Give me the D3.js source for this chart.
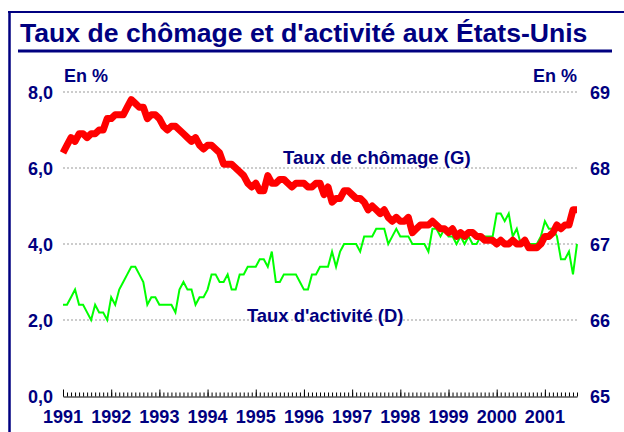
<!DOCTYPE html>
<html><head><meta charset="utf-8">
<script src="https://cdn.jsdelivr.net/npm/d3@7"></script>
<style>
html,body{margin:0;padding:0;background:#fff;}
svg text{font-family:"Liberation Sans",Arial,sans-serif;font-weight:bold;fill:#000080;}
</style></head>
<body>
<script>
// ---- data ----
const title = "Taux de chômage et d'activité aux États-Unis";
const startYear = 1991;
const yearLabels = ["1991","1992","1993","1994","1995","1996","1997","1998","1999","2000","2001"];
const leftTicks = [0, 2, 4, 6, 8];
const rightTicks = [65, 66, 67, 68, 69];
// Taux de chômage (G), monthly Jan 1991 - Sep 2001
const chomage = [
 6.4,6.6,6.8,6.7,6.9,6.9,6.8,6.9,6.9,7.0,7.0,7.3,
 7.3,7.4,7.4,7.4,7.6,7.8,7.7,7.6,7.6,7.3,7.4,7.4,
 7.3,7.1,7.0,7.1,7.1,7.0,6.9,6.8,6.7,6.8,6.6,6.5,
 6.6,6.6,6.5,6.4,6.1,6.1,6.1,6.0,5.9,5.8,5.6,5.5,
 5.6,5.4,5.4,5.8,5.6,5.6,5.7,5.7,5.6,5.5,5.6,5.6,
 5.6,5.5,5.5,5.6,5.6,5.3,5.5,5.1,5.2,5.2,5.4,5.4,
 5.3,5.2,5.2,5.1,4.9,5.0,4.9,4.8,4.9,4.7,4.6,4.7,
 4.6,4.6,4.7,4.3,4.4,4.5,4.5,4.5,4.6,4.5,4.4,4.4,
 4.3,4.4,4.2,4.3,4.2,4.3,4.3,4.2,4.2,4.1,4.1,4.1,
 4.0,4.1,4.0,4.0,4.1,4.0,4.0,4.1,3.9,3.9,3.9,4.0,
 4.2,4.2,4.3,4.5,4.4,4.5,4.5,4.9,4.9
];
// Taux d'activité (D), monthly Jan 1991 - Sep 2001
const activite = [
 66.2,66.2,66.3,66.4,66.2,66.2,66.1,66.0,66.2,66.1,66.1,66.0,
 66.3,66.2,66.4,66.5,66.6,66.7,66.7,66.6,66.5,66.2,66.3,66.3,
 66.2,66.2,66.2,66.2,66.1,66.4,66.5,66.4,66.4,66.2,66.3,66.3,
 66.4,66.6,66.6,66.5,66.5,66.6,66.4,66.4,66.6,66.6,66.7,66.7,
 66.7,66.8,66.8,66.7,66.9,66.5,66.5,66.6,66.6,66.6,66.6,66.5,
 66.4,66.4,66.6,66.6,66.7,66.7,66.7,66.9,66.7,66.9,67.0,67.0,
 67.0,67.0,66.9,67.1,67.1,67.1,67.2,67.2,67.2,67.0,67.1,67.2,
 67.1,67.1,67.1,67.0,67.0,67.0,67.0,66.9,67.2,67.2,67.1,67.2,
 67.1,67.1,67.0,67.1,67.0,67.1,67.0,67.0,67.1,67.1,67.1,67.1,
 67.4,67.4,67.3,67.4,67.1,67.2,67.0,67.0,67.0,67.0,67.0,67.1,
 67.3,67.2,67.2,67.1,66.8,66.8,66.9,66.6,67.0
];
const labelG = "Taux de chômage (G)";
const labelD = "Taux d'activité (D)";
const unitLabel = "En %";

// ---- layout ----
const W = 624, H = 432;
const svg = d3.select("body").append("svg").attr("width", W).attr("height", H);
const navy = "#000080";

const nMonths = chomage.length;
const x = d3.scaleLinear().domain([0, nMonths - 1]).range([63, 577]);
const yL = d3.scaleLinear().domain([0, 8]).range([396, 92]);
const yR = d3.scaleLinear().domain([65, 69]).range([396, 92]);

// frame
svg.append("line").attr("x1", 9.5).attr("x2", 9.5).attr("y1", 11).attr("y2", H).attr("stroke", navy).attr("stroke-width", 2.5);
svg.append("line").attr("x1", 8).attr("x2", W).attr("y1", 12).attr("y2", 12).attr("stroke", navy).attr("stroke-width", 2);

// title
svg.append("text").attr("x", 20).attr("y", 42).attr("font-size", 26.6).text(title);
svg.append("line").attr("x1", 18).attr("x2", 612).attr("y1", 51).attr("y2", 51).attr("stroke", navy).attr("stroke-width", 3);

// grid
svg.append("g").selectAll("line").data(leftTicks.filter(d => d > 0)).join("line")
  .attr("x1", 63).attr("x2", 577).attr("y1", d => yL(d)).attr("y2", d => yL(d))
  .attr("stroke", "#999").attr("stroke-width", 1).attr("stroke-dasharray", "2,2");

// left axis
const fmt = d => d3.format(".1f")(d).replace(".", ",");
const gL = svg.append("g").attr("transform", "translate(53,0)")
  .call(d3.axisLeft(yL).tickValues(leftTicks).tickFormat(fmt).tickSize(0).tickPadding(0));
gL.select(".domain").remove();
gL.selectAll("text").attr("font-size", 18).attr("dy", "0.35em").style("font-family", null);

// right axis
const gR = svg.append("g").attr("transform", "translate(590,0)")
  .call(d3.axisRight(yR).tickValues(rightTicks).tickFormat(d3.format("d")).tickSize(0).tickPadding(0));
gR.select(".domain").remove();
gR.selectAll("text").attr("font-size", 18).attr("dy", "0.35em").style("font-family", null);

// unit labels
svg.append("text").attr("x", 64).attr("y", 82).attr("font-size", 18).text(unitLabel);
svg.append("text").attr("x", 577).attr("y", 82).attr("font-size", 18).attr("text-anchor", "end").text(unitLabel);

// x axis
const gX1 = svg.append("g").attr("transform", "translate(0,396.5)")
  .call(d3.axisTop(x).tickValues(d3.range(0, nMonths)).tickSize(4).tickSizeOuter(0).tickFormat(""));
const gX2 = svg.append("g").attr("transform", "translate(0,396.5)")
  .call(d3.axisTop(x).tickValues(yearLabels.map((d, i) => i * 12)).tickSize(7).tickSizeOuter(0).tickFormat(""));
[gX1, gX2].forEach(g => { g.selectAll("line").attr("stroke", "#000"); g.select(".domain").attr("stroke", "#000"); });
gX2.select(".domain").remove();

svg.append("g").selectAll("text").data(yearLabels).join("text")
  .attr("x", (d, i) => x(i * 12)).attr("y", 423).attr("font-size", 18).attr("text-anchor", "middle").text(d => d);

// lines
const lineG = d3.line().x((d, i) => x(i)).y(d => yR(d));
svg.append("path").datum(activite).attr("d", lineG).attr("fill", "none").attr("stroke", "#00ff00").attr("stroke-width", 2);
const lineR = d3.line().x((d, i) => x(i)).y(d => yL(d));
svg.append("path").datum(chomage).attr("d", lineR).attr("fill", "none").attr("stroke", "#ff0000").attr("stroke-width", 7).attr("stroke-linejoin", "round");

// series labels
svg.append("text").attr("x", 283).attr("y", 164).attr("font-size", 18.6).text(labelG);
svg.append("text").attr("x", 247).attr("y", 322).attr("font-size", 18.4).text(labelD);
</script>
</body></html>
